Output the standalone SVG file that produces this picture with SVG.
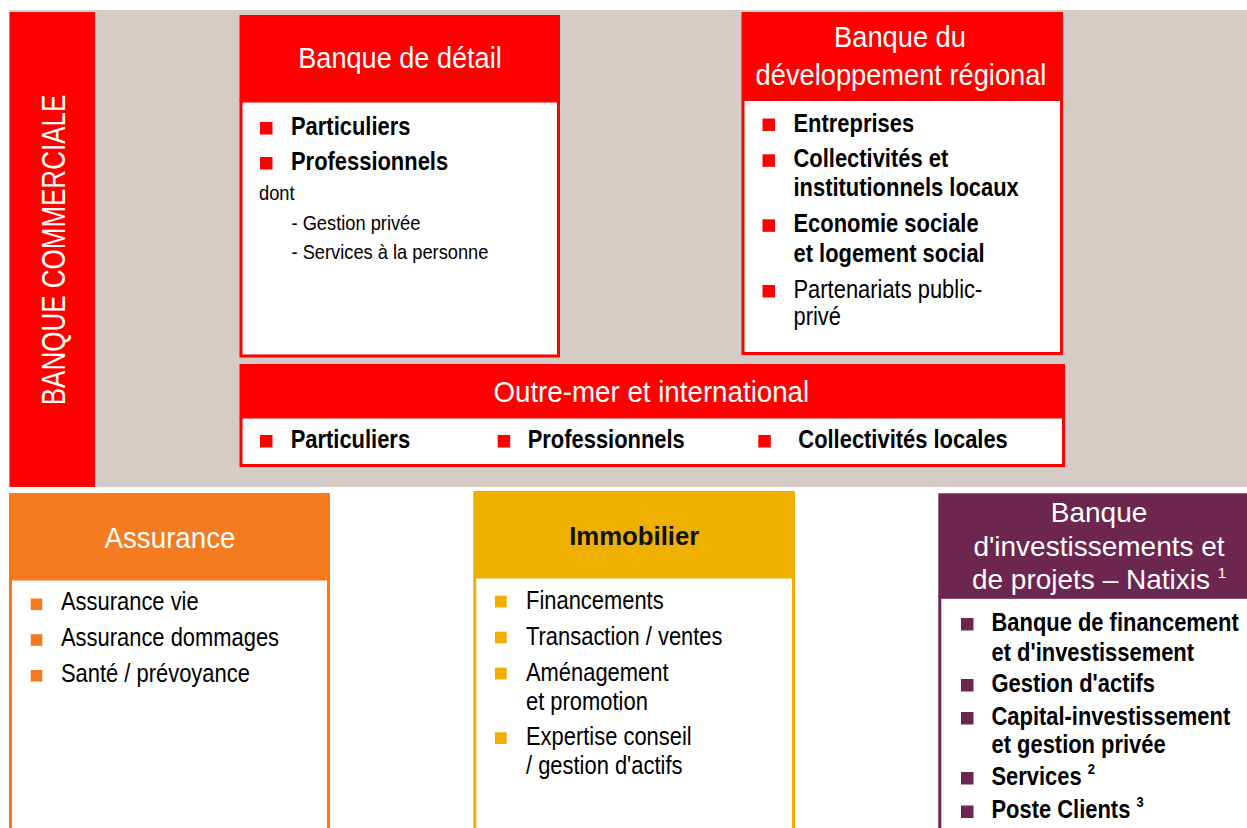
<svg xmlns="http://www.w3.org/2000/svg" width="1247" height="828" viewBox="0 0 1247 828">
<style>
text{font-family:"Liberation Sans",Arial,sans-serif;}
.h{font-size:29px;fill:#fff;text-anchor:middle}
.hn{font-size:28px;fill:#fff;text-anchor:middle}
.i{font-size:25.5px;fill:#000}
.b{font-weight:bold}
.s{font-size:21px;fill:#000}
.sup{font-size:15px}
.vt{font-size:32.5px;fill:#fff;text-anchor:middle}
.red{fill:#ff0000}
.org{fill:#f47b20}
.gld{fill:#f0b000}
.pur{fill:#6d2650}
.bodyR{fill:#fff;stroke:#ff0000;stroke-width:3}
.bodyO{fill:#fff;stroke:#f47b20;stroke-width:3}
.bodyG{fill:#fff;stroke:#f0b000;stroke-width:3}
.bodyP{fill:#fff;stroke:#6d2650;stroke-width:3}
</style>
<rect x="0" y="0" width="1247" height="828" fill="#fff"/>
<rect id="bg" x="9.5" y="10" width="1237.5" height="477" fill="#d5ccc7"/>

<g id="banque-commerciale">
<rect class="red" x="9.5" y="12" width="85.5" height="475"/>
<text class="vt" transform="translate(65,250) rotate(-90) scale(0.8,1)">BANQUE COMMERCIALE</text>
</g>

<g id="banque-detail">
<rect class="red" x="239.5" y="15" width="320.5" height="86"/>
<rect class="bodyR" x="241" y="101" width="317.5" height="255"/>
<text class="h" transform="translate(400,68) scale(0.935,1)">Banque de détail</text>
<rect class="red" x="260" y="122" width="12.5" height="12.5"/>
<text class="i b" transform="translate(291,135) scale(0.86,1)">Particuliers</text>
<rect class="red" x="260" y="157" width="12.5" height="12.5"/>
<text class="i b" transform="translate(291,170) scale(0.86,1)">Professionnels</text>
<text class="s" transform="translate(259,200) scale(0.87,1)">dont</text>
<text class="s" transform="translate(291.5,230) scale(0.87,1)">- Gestion privée</text>
<text class="s" transform="translate(291.5,259.3) scale(0.87,1)">- Services à la personne</text>
</g>

<g id="banque-developpement-regional">
<rect class="red" x="741.5" y="12" width="321.5" height="87"/>
<rect class="bodyR" x="743" y="99.5" width="318.5" height="254"/>
<text class="h" transform="translate(900,46.7) scale(0.94,1)">Banque du</text>
<text class="h" transform="translate(901,85) scale(0.94,1)">développement régional</text>
<rect class="red" x="762.5" y="118.5" width="12.5" height="12.5"/>
<text class="i b" transform="translate(793.5,131.7) scale(0.86,1)">Entreprises</text>
<rect class="red" x="762.5" y="154.3" width="12.5" height="12.5"/>
<text class="i b" transform="translate(793.5,166.7) scale(0.86,1)">Collectivités et</text>
<text class="i b" transform="translate(793.5,196) scale(0.86,1)">institutionnels locaux</text>
<rect class="red" x="762.5" y="219.3" width="12.5" height="12.5"/>
<text class="i b" transform="translate(793.5,232.3) scale(0.86,1)">Economie sociale</text>
<text class="i b" transform="translate(793.5,261.7) scale(0.86,1)">et logement social</text>
<rect class="red" x="762.5" y="285" width="12.5" height="12.5"/>
<text class="i" transform="translate(793.5,297.7) scale(0.86,1)">Partenariats public-</text>
<text class="i" transform="translate(793.5,325) scale(0.86,1)">privé</text>
</g>

<g id="outre-mer-international">
<rect class="red" x="239.5" y="364" width="825.5" height="53"/>
<rect class="bodyR" x="241" y="417" width="822.5" height="48.5"/>
<text class="h" transform="translate(651.3,401.7) scale(0.956,1)">Outre-mer et international</text>
<rect class="red" x="260" y="435" width="12.5" height="12.5"/>
<text class="i b" transform="translate(290.7,448.3) scale(0.86,1)">Particuliers</text>
<rect class="red" x="497.7" y="435" width="12.5" height="12.5"/>
<text class="i b" transform="translate(527.7,448.3) scale(0.86,1)">Professionnels</text>
<rect class="red" x="758.3" y="435" width="12.5" height="12.5"/>
<text class="i b" transform="translate(798.3,448.3) scale(0.86,1)">Collectivités locales</text>
</g>

<g id="assurance">
<rect class="org" x="9" y="493" width="321" height="86"/>
<rect class="bodyO" x="10.5" y="579" width="318" height="262"/>
<text class="h" transform="translate(170,547.7) scale(0.956,1)">Assurance</text>
<rect class="org" x="30.7" y="598.5" width="11.6" height="11.6"/>
<text class="i" transform="translate(61,610) scale(0.86,1)">Assurance vie</text>
<rect class="org" x="30.7" y="634.2" width="11.6" height="11.6"/>
<text class="i" transform="translate(61,646) scale(0.86,1)">Assurance dommages</text>
<rect class="org" x="30.7" y="670" width="11.6" height="11.6"/>
<text class="i" transform="translate(61,681.7) scale(0.86,1)">Santé / prévoyance</text>
</g>

<g id="immobilier">
<rect class="gld" x="473.3" y="491" width="321.7" height="86"/>
<rect class="bodyG" x="474.8" y="577" width="318.7" height="264"/>
<text class="h b" style="fill:#111;font-size:26px" transform="translate(634.2,545) scale(0.99,1)">Immobilier</text>
<rect class="gld" x="495" y="595.7" width="11.7" height="11.7"/>
<text class="i" transform="translate(526,609.3) scale(0.86,1)">Financements</text>
<rect class="gld" x="495" y="631.7" width="11.7" height="11.7"/>
<text class="i" transform="translate(526,645) scale(0.86,1)">Transaction / ventes</text>
<rect class="gld" x="495" y="667.7" width="11.7" height="11.7"/>
<text class="i" transform="translate(526,680.7) scale(0.86,1)">Aménagement</text>
<text class="i" transform="translate(526,710) scale(0.86,1)">et promotion</text>
<rect class="gld" x="495" y="732.3" width="11.7" height="11.7"/>
<text class="i" transform="translate(526,745) scale(0.86,1)">Expertise conseil</text>
<text class="i" transform="translate(526,774) scale(0.86,1)">/ gestion d'actifs</text>
</g>

<g id="natixis">
<rect class="pur" x="938.3" y="493.3" width="320" height="104"/>
<rect class="bodyP" x="939.8" y="597.3" width="320" height="250"/>
<text class="hn" transform="translate(1099,521.7)">Banque</text>
<text class="hn" transform="translate(1099,556)">d'investissements et</text>
<text class="hn" transform="translate(1099,589.3)">de projets – Natixis <tspan class="sup" dy="-11">1</tspan></text>
<rect class="pur" x="961" y="618" width="12.5" height="12.5"/>
<text class="i b" transform="translate(991.5,631) scale(0.86,1)">Banque de financement</text>
<text class="i b" transform="translate(991.5,660.5) scale(0.86,1)">et d'investissement</text>
<rect class="pur" x="961" y="679" width="12.5" height="12.5"/>
<text class="i b" transform="translate(991.5,691.7) scale(0.86,1)">Gestion d'actifs</text>
<rect class="pur" x="961" y="712" width="12.5" height="12.5"/>
<text class="i b" transform="translate(991.5,725) scale(0.86,1)">Capital-investissement</text>
<text class="i b" transform="translate(991.5,753.3) scale(0.86,1)">et gestion privée</text>
<rect class="pur" x="961" y="772" width="12.5" height="12.5"/>
<text class="i b" transform="translate(991.5,785) scale(0.86,1)">Services <tspan class="sup" dy="-11">2</tspan></text>
<rect class="pur" x="961" y="805.5" width="12.5" height="12.5"/>
<text class="i b" transform="translate(991.5,818.3) scale(0.86,1)">Poste Clients <tspan class="sup" dy="-11">3</tspan></text>
</g>

<g id="connectors"/>
</svg>
